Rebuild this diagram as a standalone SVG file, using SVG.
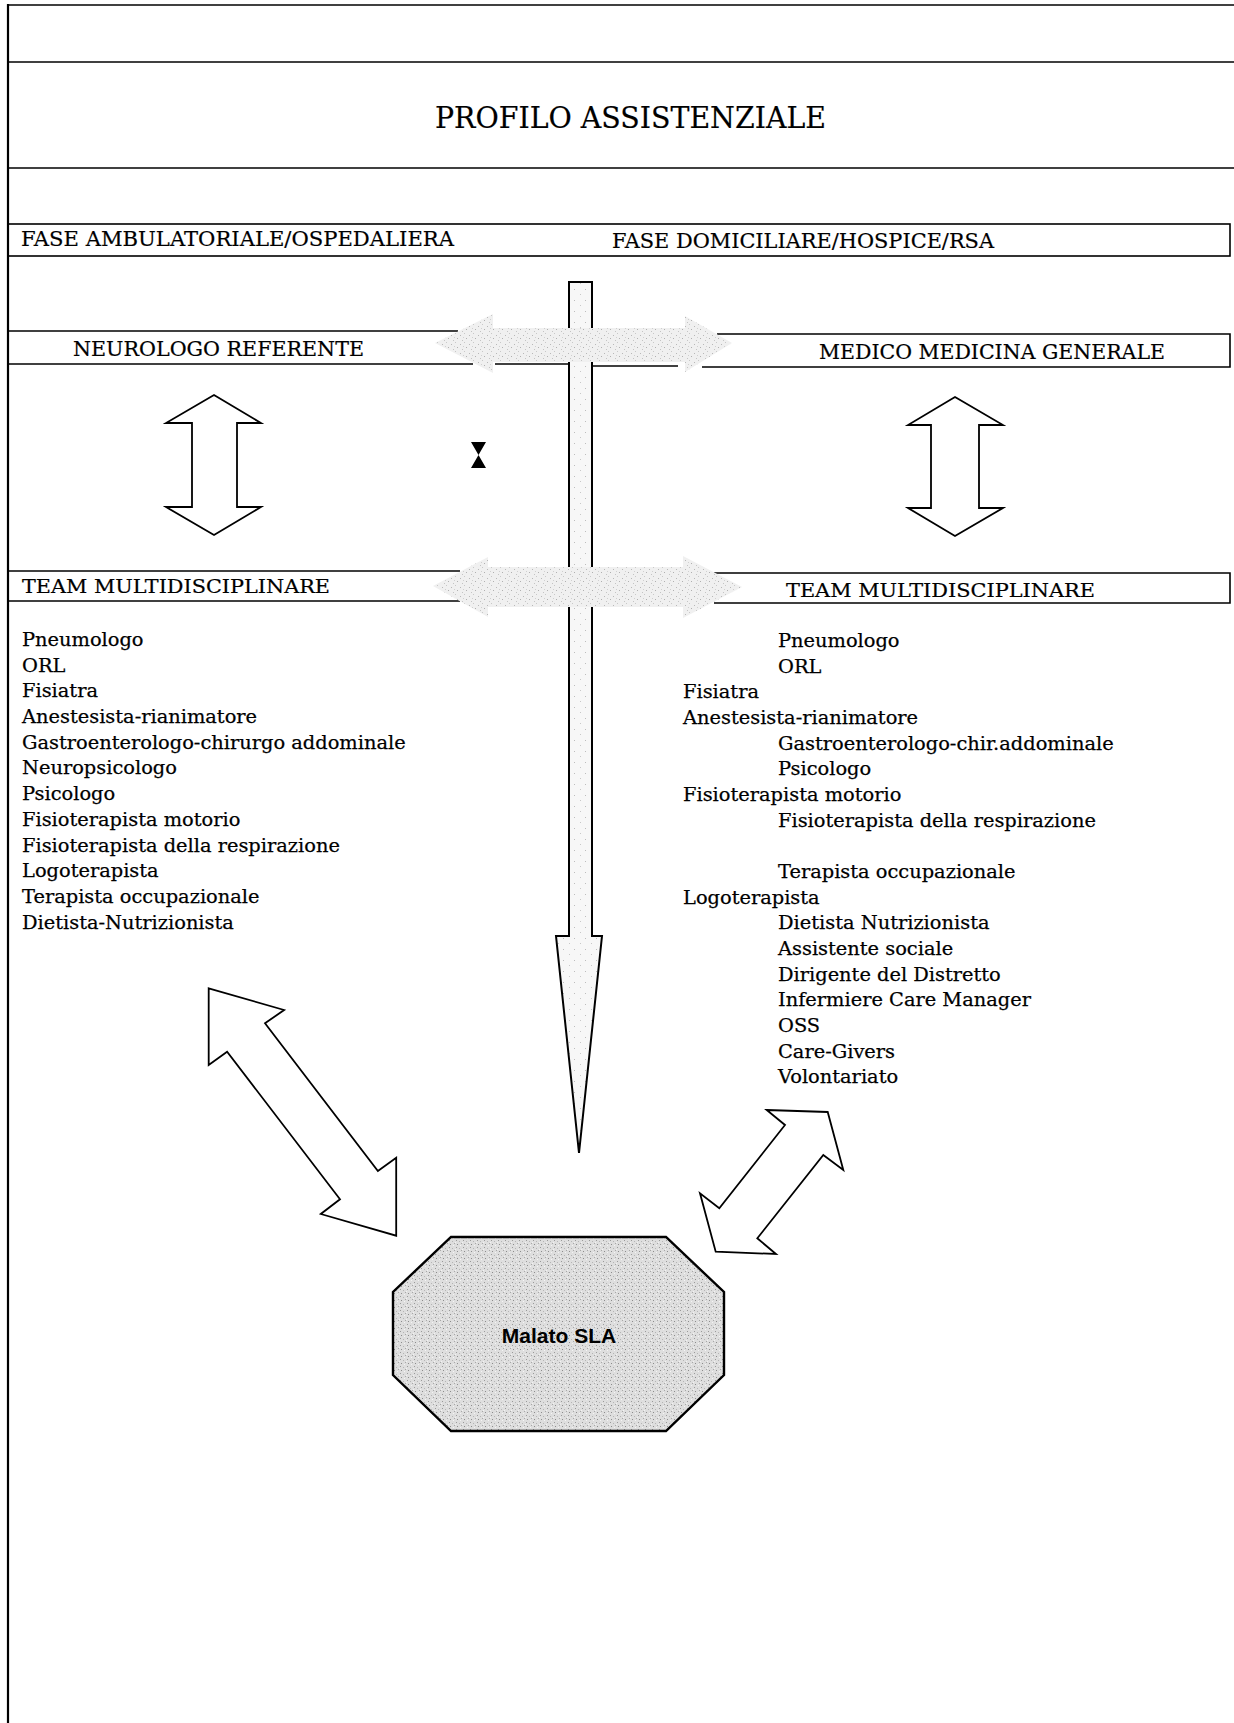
<svg xmlns="http://www.w3.org/2000/svg" width="1234" height="1723" viewBox="0 0 1234 1723">
<style>
.ln{stroke:#000;stroke-width:1.6;fill:none}
.hd{font-family:"DejaVu Serif","Liberation Serif",serif;fill:#000;stroke:#000;stroke-width:0.2}
.li{font-family:"DejaVu Serif","Liberation Serif",serif;font-size:19.4px;fill:#000;stroke:#000;stroke-width:0.25}
.dbl{fill:#fff;stroke:#000;stroke-width:1.8;stroke-linejoin:miter}
.gray{fill:url(#stipLight);stroke:none}
</style>
<defs>
  <pattern id="stipLight" width="9" height="9" patternUnits="userSpaceOnUse">
    <rect width="9" height="9" fill="#f0f0f0"/>
    <rect x="1" y="2" width="1" height="1" fill="#b8b8b8"/>
    <rect x="5" y="0" width="1" height="1" fill="#c8c8c8"/>
    <rect x="7" y="5" width="1" height="1" fill="#b0b0b0"/>
    <rect x="3" y="7" width="1" height="1" fill="#c4c4c4"/>
    <rect x="4" y="4" width="1" height="1" fill="#d0d0d0"/>
  </pattern>
  <pattern id="stipVert" width="11" height="11" patternUnits="userSpaceOnUse">
    <rect width="11" height="11" fill="#f7f7f7"/>
    <rect x="2" y="3" width="1" height="1" fill="#bdbdbd"/>
    <rect x="8" y="8" width="1" height="1" fill="#c8c8c8"/>
  </pattern>
  <pattern id="stipDark" width="7" height="7" patternUnits="userSpaceOnUse">
    <rect width="7" height="7" fill="#dedede"/>
    <rect x="1" y="1" width="1" height="1" fill="#9a9a9a"/>
    <rect x="4" y="2" width="1" height="1" fill="#b5b5b5"/>
    <rect x="2" y="5" width="1" height="1" fill="#8c8c8c"/>
    <rect x="6" y="4" width="1" height="1" fill="#a8a8a8"/>
    <rect x="5" y="6" width="1" height="1" fill="#f4f4f4"/>
    <rect x="0" y="3" width="1" height="1" fill="#f2f2f2"/>
  </pattern>
</defs>
<rect x="0" y="0" width="1234" height="1723" fill="#fff"/>
<g id="frame">
  <line class="ln" x1="8" y1="5" x2="1234" y2="5"/>
  <line class="ln" x1="8" y1="4" x2="8" y2="1723" style="stroke-width:2.2"/>
  <line class="ln" x1="8" y1="62" x2="1234" y2="62"/>
  <line class="ln" x1="8" y1="168" x2="1234" y2="168"/>
</g>
<g id="title">
  <text class="hd" x="435" y="128" font-size="30" textLength="391" lengthAdjust="spacingAndGlyphs">PROFILO ASSISTENZIALE</text>
</g>
<g id="fase">
  <rect class="ln" x="8" y="224" width="1222" height="32"/>
  <text class="hd" x="21" y="246" font-size="21" textLength="433" lengthAdjust="spacingAndGlyphs">FASE AMBULATORIALE/OSPEDALIERA</text>
  <text class="hd" x="612" y="248" font-size="21" textLength="382" lengthAdjust="spacingAndGlyphs">FASE DOMICILIARE/HOSPICE/RSA</text>
</g>
<g id="neurologo">
  <line class="ln" x1="8" y1="331" x2="458" y2="331"/>
  <line class="ln" x1="8" y1="364" x2="473" y2="364"/>
  <line class="ln" x1="495" y1="364" x2="570" y2="364"/>
  <text class="hd" x="73" y="356" font-size="19.5" textLength="291" lengthAdjust="spacingAndGlyphs">NEUROLOGO REFERENTE</text>
</g>
<g id="medico">
  <polyline class="ln" points="717,334 1230,334 1230,367 702,367"/>
  <line class="ln" x1="592" y1="366" x2="678" y2="366"/>
  <text class="hd" x="819" y="359" font-size="19.5" textLength="346" lengthAdjust="spacingAndGlyphs">MEDICO MEDICINA GENERALE</text>
</g>
<g id="team-left">
  <line class="ln" x1="8" y1="571" x2="460" y2="571"/>
  <line class="ln" x1="8" y1="601" x2="460" y2="601"/>
  <text class="hd" x="22" y="593" font-size="18.5" textLength="308" lengthAdjust="spacingAndGlyphs">TEAM MULTIDISCIPLINARE</text>
</g>
<g id="team-right">
  <polyline class="ln" points="714,573 1230,573 1230,603 714,603"/>
  <text class="hd" x="786" y="597" font-size="18.5" textLength="309" lengthAdjust="spacingAndGlyphs">TEAM MULTIDISCIPLINARE</text>
</g>
<g id="list-left" class="li">
  <text x="22" y="646">Pneumologo</text>
  <text x="22" y="672">ORL</text>
  <text x="22" y="697">Fisiatra</text>
  <text x="22" y="723">Anestesista-rianimatore</text>
  <text x="22" y="749">Gastroenterologo-chirurgo addominale</text>
  <text x="22" y="774">Neuropsicologo</text>
  <text x="22" y="800">Psicologo</text>
  <text x="22" y="826">Fisioterapista motorio</text>
  <text x="22" y="852">Fisioterapista della respirazione</text>
  <text x="22" y="877">Logoterapista</text>
  <text x="22" y="903">Terapista occupazionale</text>
  <text x="22" y="929">Dietista-Nutrizionista</text>
</g>
<g id="list-right" class="li">
  <text x="778" y="647">Pneumologo</text>
  <text x="778" y="673">ORL</text>
  <text x="683" y="698">Fisiatra</text>
  <text x="683" y="724">Anestesista-rianimatore</text>
  <text x="778" y="750">Gastroenterologo-chir.addominale</text>
  <text x="778" y="775">Psicologo</text>
  <text x="683" y="801">Fisioterapista motorio</text>
  <text x="778" y="827">Fisioterapista della respirazione</text>
  <text x="778" y="878">Terapista occupazionale</text>
  <text x="683" y="904">Logoterapista</text>
  <text x="778" y="929">Dietista Nutrizionista</text>
  <text x="778" y="955">Assistente sociale</text>
  <text x="778" y="981">Dirigente del Distretto</text>
  <text x="778" y="1006">Infermiere Care Manager</text>
  <text x="778" y="1032">OSS</text>
  <text x="778" y="1058">Care-Givers</text>
  <text x="778" y="1083">Volontariato</text>
</g>
<g id="malato">
  <polygon points="451,1237 666,1237 724,1292 724,1375 666,1431 451,1431 393,1375 393,1292" fill="url(#stipDark)" stroke="#000" stroke-width="2.4"/>
  <text x="559" y="1343" text-anchor="middle" font-family="'Liberation Sans',Arial,sans-serif" font-weight="bold" font-size="21">Malato SLA</text>
</g>
<g id="connectors">
  <path d="M569,282 H592 V936 H602 L579,1153 L556,936 H569 Z" fill="url(#stipVert)" stroke="#000" stroke-width="2"/>
  <polygon class="gray" points="435,343 493,314 493,328 685,328 685,316 732,343 685,372 685,362 493,362 493,373"/>
  <polygon class="gray" points="433,586 488,557 488,567 683,567 683,556 742,587 683,618 683,607 488,607 488,617"/>
  <polygon class="dbl" points="214,395 261,423 237,423 237,507 261,507 214,535 166,507 192,507 192,423 166,423"/>
  <polygon class="dbl" points="955,397 1003,425 979,425 979,508 1003,508 955,536 908,508 931,508 931,425 908,425"/>
  <polygon fill="#000" points="471,442 486,442 478.5,455 486,468 471,468 478.5,455"/>
  <polygon class="dbl" points="208.7,988.3 284.1,1010 265,1023.3 377.9,1171 396.2,1157.7 396.2,1235.7 320.8,1214 340,1199.3 227.1,1051.7 208.7,1065"/>
  <polygon class="dbl" points="766.7,1110 827.7,1112 843.3,1170 823.3,1155 757.3,1238.3 776,1254 715.7,1251.7 700,1193.3 719.3,1208.3 785,1125"/>
</g>
</svg>
